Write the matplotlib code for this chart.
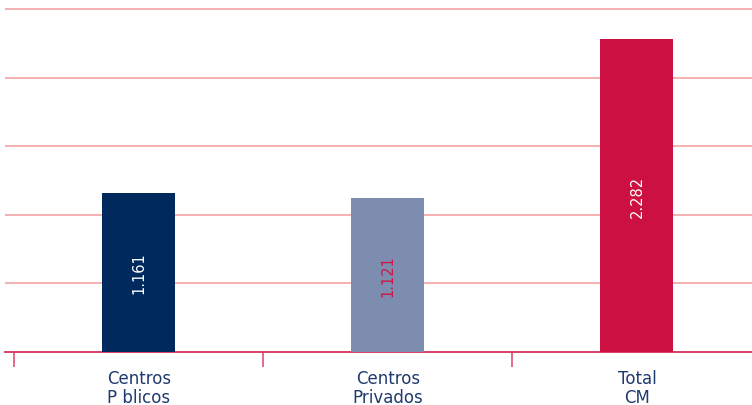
import matplotlib
matplotlib.use("Agg")
import matplotlib.pyplot as plt
from matplotlib.ticker import FixedLocator, NullFormatter

categories = ["Centros\nP blicos", "Centros\nPrivados", "Total\nCM"]
values = [1161, 1121, 2282]
value_labels = ["1.161", "1.121", "2.282"]
bar_colors = ["#002a5e", "#7d8db0", "#cc1041"]
text_colors = ["white", "#d01446", "white"]

plt.rcParams['font.family'] = ['DejaVu Sans']

fig = plt.figure(figsize=(7.52, 4.06), dpi=100)
ax = fig.add_axes([5/752, 53/406, 747/752, 346/406])

x = list(range(len(categories)))
ax.bar(x, values, width=0.293, color=bar_colors, zorder=3)
for xi, v, lab, tc in zip(x, values, value_labels, text_colors):
    ax.text(xi, v/2, lab, rotation=90, ha='center', va='center',
            color=tc, fontsize=10.5, zorder=4)

ax.set_ylim(0, 2500 * 346 / 343)
ax.set_xlim(-0.538, 2.462)
ax.set_yticks([500, 1000, 1500, 2000, 2500])
ax.yaxis.grid(True, color='#f2a3a3', linewidth=1.2, zorder=0)
ax.tick_params(axis='y', left=False, labelleft=False)

for s in ['top', 'right', 'left']:
    ax.spines[s].set_visible(False)
ax.spines['bottom'].set_color('#d6345e')
ax.spines['bottom'].set_linewidth(1.3)

ax.set_xticks(x)
ax.set_xticklabels(categories, color='#1f3a6e', fontsize=12, linespacing=1.1)
ax.tick_params(axis='x', which='major', length=0, pad=12)
ax.xaxis.set_minor_locator(FixedLocator([-0.5, 0.5, 1.5, 2.5]))
ax.xaxis.set_minor_formatter(NullFormatter())
ax.tick_params(axis='x', which='minor', length=11, color='#e0607f', width=1.3)

fig.savefig("out.png", dpi=100)
